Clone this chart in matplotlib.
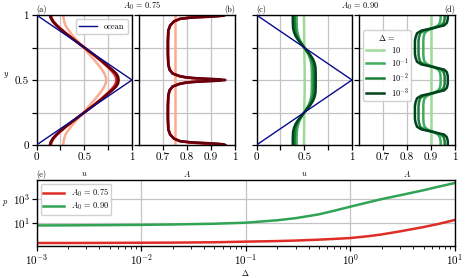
import matplotlib
matplotlib.use('Agg')
import matplotlib.pyplot as plt
from matplotlib.ticker import NullLocator
import numpy as np

plt.rcParams.update({
    'font.family': 'cmr10',
    'mathtext.fontset': 'cm',
    'axes.formatter.use_mathtext': True,
    'axes.unicode_minus': False,
    'font.size': 8,
    'axes.linewidth': 1.0,
    'grid.color': '#c4c4c4',
    'grid.linewidth': 0.9,
})

# ---------------- data ----------------
deltas = ['10', '10^{-1}', '10^{-2}', '10^{-3}']
reds = ['#fcab8f', '#e3302a', '#a50f15', '#67000d']
greens = ['#a1d99b', '#41ab5d', '#1a7d3a', '#00441b']

# ocean velocity (triangle)
y_ocean = [0.0, 0.5, 1.0]
u_ocean = [0.0, 1.0, 0.0]

# half profiles y in [0, 0.5]; the other half is the mirror image
y_a = [0, .025, .05, .075, .1, .15, .2, .25, .3, .35, .4, .425, .45, .475, .5]
u_a = [
    [0.28, 0.283, 0.29, 0.30, 0.32, 0.37, 0.43, 0.49, 0.55, 0.61, 0.665, 0.69, 0.71, 0.725, 0.73],
    [0.15, 0.16, 0.18, 0.21, 0.245, 0.325, 0.41, 0.50, 0.59, 0.67, 0.745, 0.78, 0.81, 0.83, 0.835],
    [0.145, 0.155, 0.175, 0.205, 0.24, 0.32, 0.41, 0.50, 0.59, 0.675, 0.755, 0.79, 0.825, 0.845, 0.85],
    [0.14, 0.15, 0.17, 0.20, 0.235, 0.32, 0.41, 0.50, 0.59, 0.68, 0.76, 0.80, 0.835, 0.855, 0.86],
]

y_b = [0, .005, .01, .015, .02, .03, .05, .08, .12, .2, .3, .38, .42, .45, .47, .48, .485, .49, .495, .5]
A_b = [
    [0.75, 0.75, 0.75, 0.75, 0.75, 0.75, 0.75, 0.75, 0.75, 0.75, 0.75, 0.75, 0.75, 0.75, 0.75, 0.75, 0.75, 0.75, 0.75, 0.75],
    [0.90, 0.895, 0.875, 0.84, 0.805, 0.77, 0.745, 0.73, 0.723, 0.722, 0.722, 0.723, 0.728, 0.74, 0.765, 0.79, 0.815, 0.85, 0.89, 0.90],
    [0.94, 0.935, 0.91, 0.865, 0.815, 0.77, 0.745, 0.73, 0.722, 0.72, 0.72, 0.722, 0.727, 0.74, 0.77, 0.795, 0.825, 0.87, 0.925, 0.94],
    [0.96, 0.955, 0.93, 0.88, 0.82, 0.77, 0.745, 0.73, 0.722, 0.72, 0.72, 0.722, 0.727, 0.74, 0.77, 0.80, 0.83, 0.88, 0.94, 0.96],
]

y_c = [0, .05, .1, .13, .16, .19, .22, .25, .28, .31, .34, .37, .4, .45, .5]
u_c = [
    [0.497, 0.497, 0.498, 0.498, 0.499, 0.499, 0.50, 0.50, 0.50, 0.501, 0.502, 0.503, 0.504, 0.505, 0.505],
    [0.42, 0.42, 0.422, 0.427, 0.437, 0.452, 0.475, 0.50, 0.525, 0.548, 0.563, 0.573, 0.578, 0.58, 0.58],
    [0.40, 0.40, 0.403, 0.41, 0.423, 0.443, 0.47, 0.50, 0.53, 0.557, 0.577, 0.59, 0.597, 0.60, 0.60],
    [0.38, 0.38, 0.383, 0.392, 0.408, 0.434, 0.466, 0.50, 0.534, 0.566, 0.592, 0.608, 0.617, 0.62, 0.62],
]

y_d = [0, .03, .06, .08, .1, .12, .14, .17, .2, .25, .3, .33, .36, .38, .4, .42, .44, .47, .5]
A_d = [
    [0.90, 0.90, 0.90, 0.90, 0.90, 0.90, 0.90, 0.90, 0.90, 0.90, 0.90, 0.90, 0.90, 0.90, 0.90, 0.90, 0.90, 0.90, 0.90],
    [0.94, 0.94, 0.937, 0.93, 0.91, 0.885, 0.873, 0.869, 0.868, 0.868, 0.868, 0.869, 0.873, 0.885, 0.91, 0.93, 0.937, 0.94, 0.94],
    [0.957, 0.957, 0.953, 0.943, 0.91, 0.87, 0.855, 0.85, 0.848, 0.848, 0.848, 0.85, 0.855, 0.87, 0.91, 0.943, 0.953, 0.957, 0.957],
    [0.97, 0.97, 0.966, 0.955, 0.91, 0.86, 0.842, 0.836, 0.833, 0.833, 0.833, 0.836, 0.842, 0.86, 0.91, 0.955, 0.966, 0.97, 0.97],
]

# panel (e)
delta = [1e-3, 2e-3, 5e-3, 1e-2, 2e-2, 5e-2, 0.1, 0.2, 0.3, 0.5, 0.7, 1, 1.5, 2, 3, 5, 7, 10]
p_075 = [0.2, 0.2, 0.205, 0.21, 0.215, 0.23, 0.26, 0.29, 0.32, 0.38, 0.44, 0.52, 0.75, 1.05, 1.9, 4.3, 8, 17]
p_090 = [5.9, 6.0, 6.3, 6.6, 7.1, 8.2, 10, 16, 24, 50, 100, 220, 520, 950, 2000, 5200, 10500, 21000]


def full(y, v):
    y = np.asarray(y)
    v = np.asarray(v)
    return np.concatenate([y, 1 - y[-2::-1]]), np.concatenate([v, v[-2::-1]])


W, H = 466, 278
fig = plt.figure(figsize=(W / 100, H / 100), dpi=100)


def px(l, r, t, b):
    return [l / W, 1 - b / H, (r - l) / W, (b - t) / H]


ax_a = fig.add_axes(px(36.5, 132, 15, 145))
ax_b = fig.add_axes(px(139, 235, 15, 145))
ax_c = fig.add_axes(px(256.5, 352, 15, 145))
ax_d = fig.add_axes(px(359, 455, 15, 145))
ax_e = fig.add_axes(px(36.5, 455, 180, 246))

small = 6

for ax in (ax_a, ax_b, ax_c, ax_d):
    ax.set_ylim(0, 1)
    ax.set_yticks([0, 0.25, 0.5, 0.75, 1])
    ax.grid(True)
    ax.tick_params(labelsize=8, length=3.5, width=0.9, pad=2)
    if ax is ax_a:
        ax.set_yticklabels(['0', '', '0.5', '', '1'])
    else:
        ax.set_yticklabels([])

for ax in (ax_a, ax_c):
    ax.set_xlim(0, 1)
    ax.set_xticks([0, 0.25, 0.5, 0.75, 1])
    ax.set_xticklabels(['0', '', '0.5', '', '1'])
    ax.set_xlabel('$u$', fontsize=small, labelpad=5)
for ax in (ax_b, ax_d):
    ax.set_xlim(0.6, 1)
    ax.set_xticks([0.7, 0.8, 0.9, 1.0])
    ax.set_xticklabels(['0.7', '0.8', '0.9', '1'])
    ax.set_xlabel('$A$', fontsize=small, labelpad=5)

# (a) and (c): velocity
ax_a.plot(u_ocean, y_ocean, color='#0a0a8c', lw=1.0, label='ocean', zorder=5)
ax_c.plot(u_ocean, y_ocean, color='#0a0a8c', lw=1.0, zorder=5)
for i in range(4):
    yy, uu = full(y_a, u_a[i])
    ax_a.plot(uu, yy, color=reds[i], lw=1.8)
    yy, uu = full(y_c, u_c[i])
    ax_c.plot(uu, yy, color=greens[i], lw=1.8)
    yy, aa = full(y_b, A_b[i])
    ax_b.plot(aa, yy, color=reds[i], lw=1.8)
    yy, aa = full(y_d, A_d[i])
    ax_d.plot(aa, yy, color=greens[i], lw=1.8, label='$%s$' % deltas[i])

ax_a.legend(loc='upper right', fontsize=small, handlelength=2.2, borderpad=0.4,
            framealpha=0.9, edgecolor='#cccccc', fancybox=True)
ax_d.legend(loc='center left', fontsize=small, title=r'$\Delta$ =', title_fontsize=small,
            handlelength=2.2, borderpad=0.3, labelspacing=0.2, bbox_to_anchor=(0.0, 0.61),
            framealpha=0.9, edgecolor='#cccccc')

ax_a.set_ylabel('$y$', fontsize=small, rotation=0)
ax_a.yaxis.set_label_coords(-0.32, 0.5)

ax_a.set_title('(a)', loc='left', fontsize=small, pad=2)
ax_b.set_title('(b)', loc='right', fontsize=small, pad=2)
ax_c.set_title('(c)', loc='left', fontsize=small, pad=2)
ax_d.set_title('(d)', loc='right', fontsize=small, pad=2)
fig.text(142 / W, 1 - 6 / H, '$A_0$ = 0.75', fontsize=small, ha='center', va='center')
fig.text(360 / W, 1 - 6 / H, '$A_0$ = 0.90', fontsize=small, ha='center', va='center')

# (e)
ax_e.plot(delta, p_075, color='#de2d26', lw=1.8, label='$A_0$ = 0.75')
ax_e.plot(delta, p_090, color='#31a354', lw=1.8, label='$A_0$ = 0.90')
ax_e.set_xscale('log')
ax_e.set_yscale('log')
ax_e.set_xlim(1e-3, 10)
ax_e.set_yticks([10, 1000])
ax_e.yaxis.set_minor_locator(NullLocator())
ax_e.grid(True, which='major')
ax_e.tick_params(labelsize=8, length=3.5, width=0.9, pad=1)
ax_e.tick_params(which='minor', length=2, width=0.6)
ax_e.set_xlabel(r'$\Delta$', fontsize=small, labelpad=1)
ax_e.set_ylabel('$p$', fontsize=small, rotation=0)
ax_e.yaxis.set_label_coords(-0.075, 0.57)
ax_e.set_title('(e)', loc='left', fontsize=small, pad=2)
ax_e.legend(loc='upper left', fontsize=small, handlelength=2.5, borderpad=0.3, labelspacing=0.2,
            framealpha=0.9, edgecolor='#cccccc')

fig.savefig('out.png', dpi=100)
